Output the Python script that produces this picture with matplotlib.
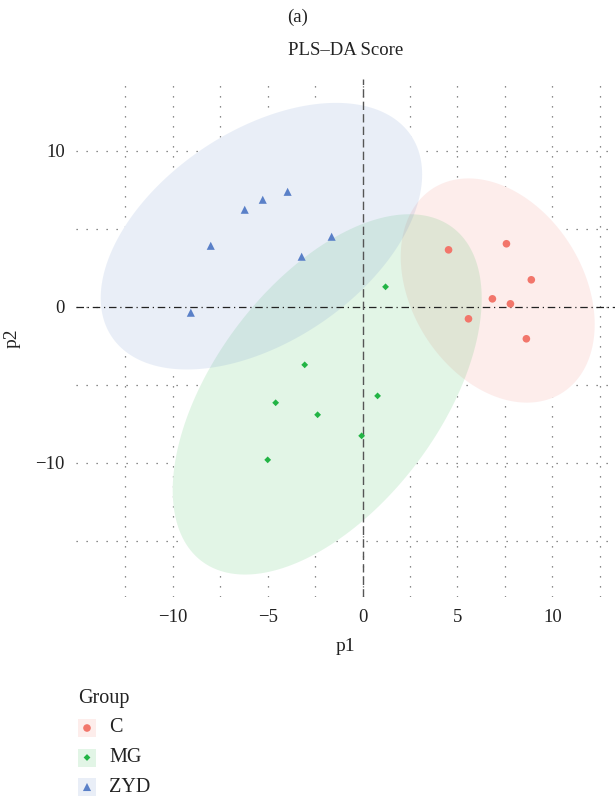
import matplotlib
matplotlib.use("Agg")
import matplotlib.pyplot as plt
import numpy as np
from matplotlib.patches import Polygon, Rectangle

plt.rcParams['font.family'] = ['Liberation Serif', 'DejaVu Serif']

# score values
groups = ["C", "MG", "ZYD"]
c_p1 = [4.53, 7.58, 8.89, 6.84, 7.79, 5.58, 8.63]
c_p2 = [3.65, 4.04, 1.73, 0.51, 0.19, -0.77, -2.05]
mg_p1 = [1.21, -3.05, -4.58, -2.37, 0.79, -0.05, -5.00]
mg_p2 = [1.28, -3.72, -6.15, -6.92, -5.71, -8.27, -9.81]
zyd_p1 = [-9.05, -8.00, -6.21, -5.26, -3.95, -3.21, -1.63]
zyd_p2 = [-0.38, 3.91, 6.22, 6.86, 7.37, 3.21, 4.49]

colors = {"C": "#F2766B", "MG": "#22B445", "ZYD": "#5A80C8"}
markers = {"C": "o", "MG": "D", "ZYD": "^"}
msize = {"C": 30, "MG": 12, "ZYD": 34}
data = {"C": (c_p1, c_p2), "MG": (mg_p1, mg_p2), "ZYD": (zyd_p1, zyd_p2)}

# 95% ellipse like stat_ellipse (F quantile for df 2, 6)
F95 = 5.1433

def ellipse_pts(x, y, n=200):
    x = np.asarray(x); y = np.asarray(y)
    cov = np.cov(x, y)
    r = np.sqrt(2 * F95)
    L = np.linalg.cholesky(cov)
    t = np.linspace(0, 2 * np.pi, n)
    circ = np.vstack([np.cos(t), np.sin(t)])
    pts = r * (L @ circ)
    return np.column_stack([pts[0] + x.mean(), pts[1] + y.mean()])

W, H = 615, 801
fig = plt.figure(figsize=(W / 100, H / 100), dpi=100)
ax = fig.add_axes([76 / W, 1 - 597 / H, (615 - 76) / W, (597 - 79) / H])

# white bases hide the grid under the ellipses, then translucent fills
for g in groups:
    pts = ellipse_pts(*data[g])
    ax.add_patch(Polygon(pts, closed=True, facecolor="white", edgecolor="none", zorder=1))
for g in groups:
    pts = ellipse_pts(*data[g])
    ax.add_patch(Polygon(pts, closed=True, facecolor=colors[g], alpha=0.13,
                         edgecolor="none", zorder=2))

ax.axvline(0, color="#555555", lw=1.0, ls=(0, (6, 3)), zorder=3)
ax.axhline(0, color="#222222", lw=0.9, ls=(0, (6, 3, 1, 3)), zorder=3)

for g in groups:
    xs, ys = data[g]
    ax.scatter(xs, ys, s=msize[g], marker=markers[g], color=colors[g],
               edgecolors="none", zorder=4)

ax.set_xlim(-15.1, 13.3)
ax.set_ylim(-18.6, 14.6)
ax.set_xticks([-10, -5, 0, 5, 10])
ax.set_yticks([-10, 0, 10])
ax.set_xticks(np.arange(-12.5, 13, 5), minor=True)
ax.set_yticks([-15, -5, 5], minor=True)
ax.grid(True, which="both", color="#666666", lw=0.9, ls=(0, (1, 7)), zorder=0)
ax.set_axisbelow(True)
for s in ax.spines.values():
    s.set_visible(False)
ax.tick_params(which="both", length=0, labelsize=13.5, colors="#222222")
ax.tick_params(axis="x", pad=9)
ax.tick_params(axis="y", pad=8)
ax.set_xlabel("p1", fontsize=14, color="#222222", labelpad=8)
ax.set_ylabel("p2", fontsize=14, color="#222222", labelpad=11)
ax.set_title("PLS\u2013DA Score", fontsize=13.5, color="#222222", pad=17)
fig.text(298 / W, 1 - 17 / H, "(a)", ha="center", va="center", fontsize=13.5, color="#222222")

# legend drawn in pixel coordinates
lg = fig.add_axes([0, 0, 1, 1], zorder=-1)
lg.set_xlim(0, W)
lg.set_ylim(H, 0)
lg.axis("off")
lg.text(78, 699, "Group", ha="left", va="center", fontsize=14.5, color="#222222")
for i, g in enumerate(groups):
    yc = 728 + i * 29.5
    lg.add_patch(Rectangle((78, yc - 9), 18, 18, facecolor=colors[g], alpha=0.13, edgecolor="none"))
    lg.scatter([87], [yc], s=msize[g], marker=markers[g], color=colors[g], edgecolors="none")
    lg.text(109, yc, g, ha="left", va="center", fontsize=14.5, color="#222222")

fig.savefig("out.png", dpi=100)
